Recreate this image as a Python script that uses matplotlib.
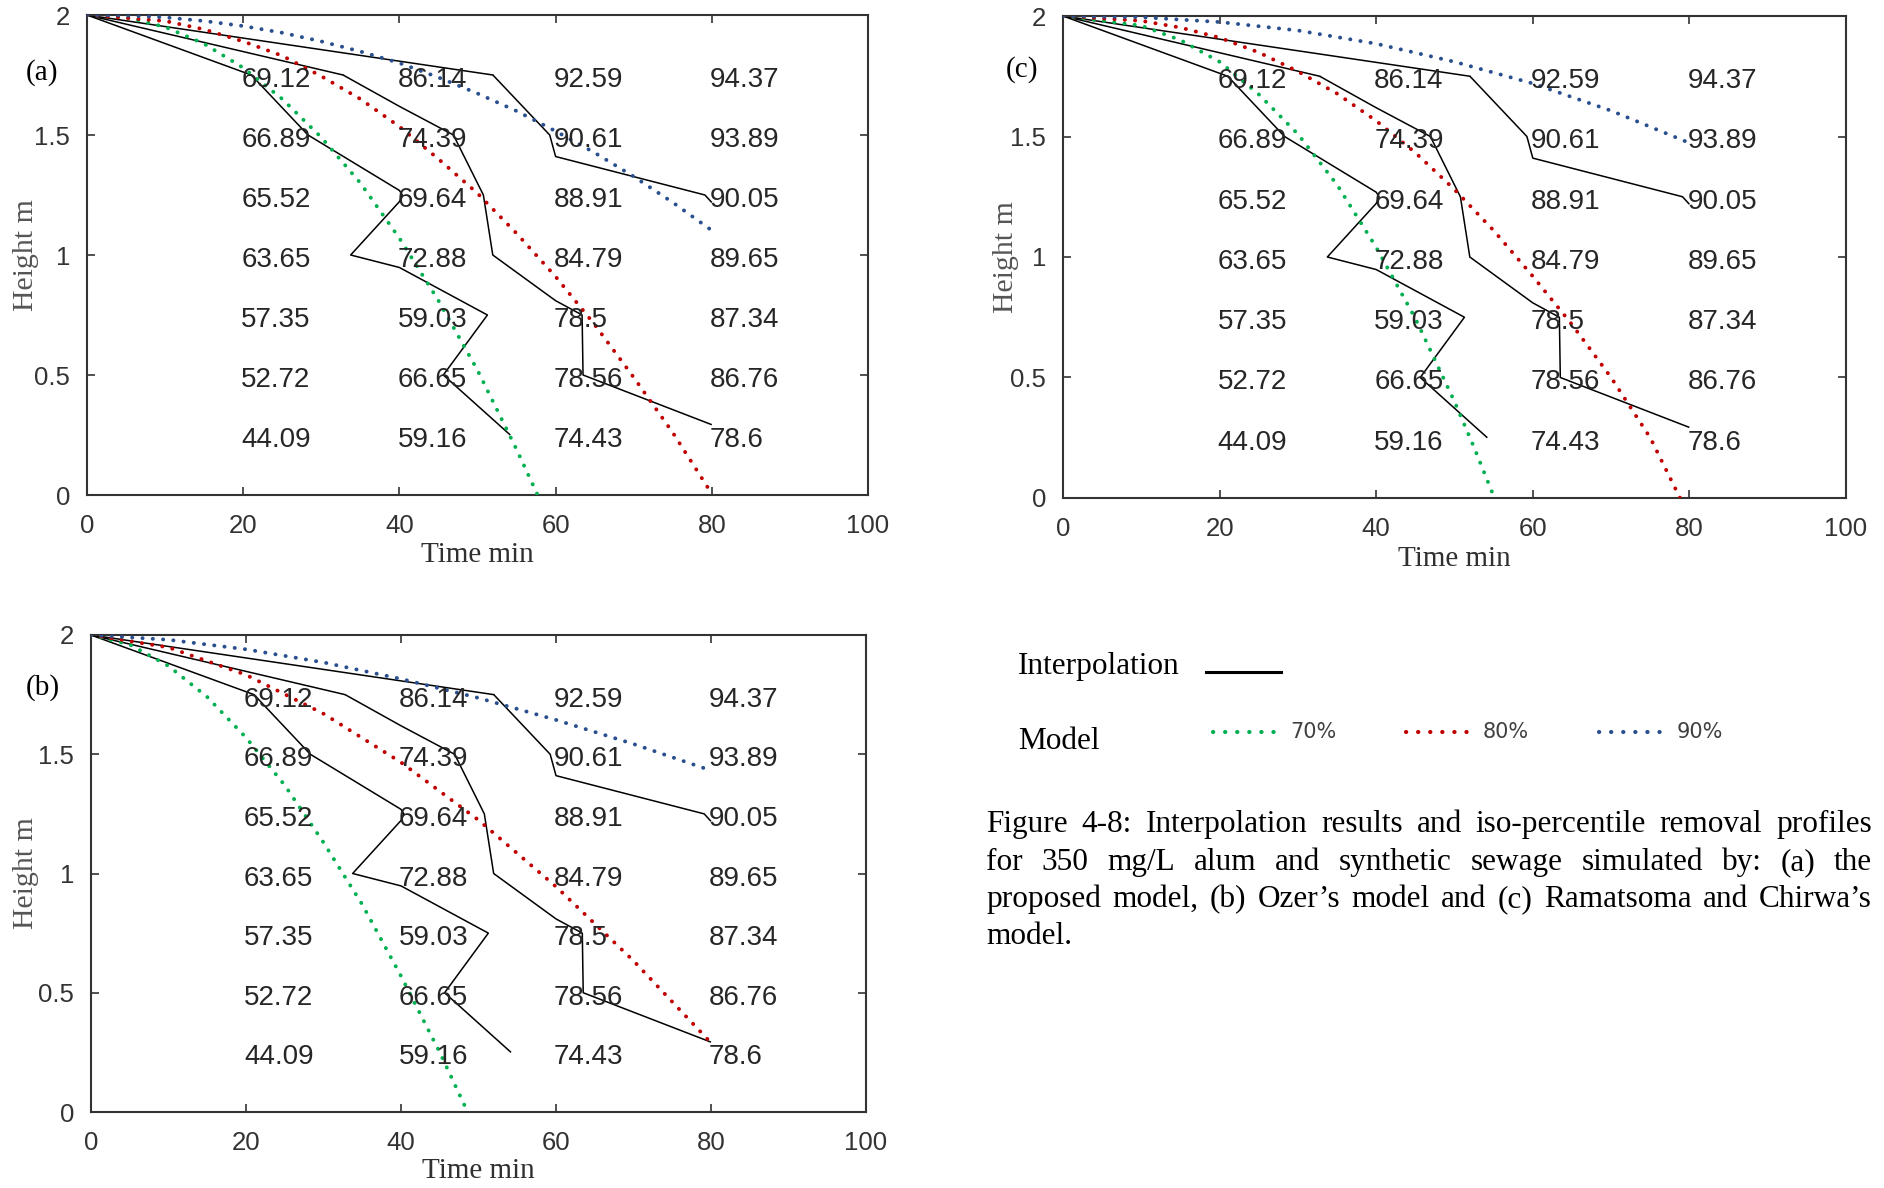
import numpy as np
import matplotlib
matplotlib.use("Agg")
import matplotlib.pyplot as plt
from matplotlib.lines import Line2D
from matplotlib.ticker import FormatStrFormatter

# ---- measured removal (%) on the sampling grid -------------------------
times = [20, 40, 60, 80]                                  # min
heights = [1.75, 1.5, 1.25, 1.0, 0.75, 0.5, 0.25]         # m
removal_t20 = [69.12, 66.89, 65.52, 63.65, 57.35, 52.72, 44.09]
removal_t40 = [86.14, 74.39, 69.64, 72.88, 59.03, 66.65, 59.16]
removal_t60 = [92.59, 90.61, 88.91, 84.79, 78.5, 78.56, 74.43]
removal_t80 = [94.37, 93.89, 90.05, 89.65, 87.34, 86.76, 78.6]

levels = [70, 80, 90]
level_labels = ["70%", "80%", "90%"]
level_colors = ["#00b050", "#c00000", "#2a4f8f"]

# ---- simulated iso-percentile profiles (time min, height m) ------------
# (a) proposed model
a70_t = [0, 5, 10, 15, 20, 25, 30, 35, 40, 45, 50, 55, 57.7]
a70_h = [2, 1.99, 1.95, 1.88, 1.78, 1.65, 1.49, 1.30, 1.07, 0.81, 0.52, 0.19, 0]
a80_t = [0, 10, 15, 20, 25, 30, 35, 40, 45, 50, 55, 60, 65, 70, 75, 80.1]
a80_h = [2, 1.975, 1.94, 1.89, 1.83, 1.745, 1.65, 1.535, 1.40, 1.257, 1.09, 0.91, 0.71, 0.49, 0.26, 0]
a90_t = [0, 5, 10, 15, 20, 25, 30, 35, 40, 45, 50, 55, 60, 65, 70, 75, 80.1]
a90_h = [2, 1.998, 1.99, 1.975, 1.954, 1.926, 1.89, 1.848, 1.80, 1.74, 1.673, 1.60, 1.516, 1.426, 1.327, 1.219, 1.10]

# (b) Ozer's model
b70_t = [0, 5, 10, 15, 20, 25, 30, 35, 40, 45, 48.6]
b70_h = [2, 1.96, 1.87, 1.74, 1.57, 1.37, 1.13, 0.87, 0.57, 0.25, 0]
b80_t = [0, 10, 20, 30, 40, 50, 60, 70, 80]
b80_h = [2, 1.948, 1.833, 1.67, 1.466, 1.224, 0.945, 0.634, 0.29]
b90_t = [0, 10, 20, 30, 40, 50, 60, 70, 79.8]
b90_h = [2, 1.98, 1.94, 1.885, 1.816, 1.736, 1.644, 1.543, 1.434]

# (c) Ramatsoma and Chirwa's model
c70_t = [0, 10, 15, 20, 25, 30, 35, 40, 45, 50, 52.5, 55.1]
c70_h = [2, 1.96, 1.90, 1.81, 1.675, 1.51, 1.30, 1.04, 0.745, 0.40, 0.21, 0]
c80_t = [0, 10, 15, 20, 25, 30, 35, 40, 45, 50, 55, 60, 65, 70, 75, 78.8]
c80_h = [2, 1.98, 1.952, 1.91, 1.849, 1.77, 1.678, 1.565, 1.433, 1.28, 1.11, 0.92, 0.72, 0.50, 0.25, 0]
c90_t = [0, 10, 20, 30, 40, 50, 60, 70, 79.5]
c90_h = [2, 1.995, 1.975, 1.94, 1.885, 1.81, 1.72, 1.607, 1.48]

x_ticks = [0, 20, 40, 60, 80, 100]
y_ticks = [0, 0.5, 1, 1.5, 2]

caption_lines = [
    "Figure 4-8: Interpolation results and iso-percentile removal profiles",
    "for 350 mg/L alum and synthetic sewage simulated by: (a) the",
    "proposed model, (b) Ozer\u2019s model and (c) Ramatsoma and Chirwa\u2019s",
    "model.",
]

SANS = "Liberation Sans"
SERIF = "Liberation Serif"
W, H = 1884, 1188

fig = plt.figure(figsize=(W / 100, H / 100), dpi=100)
fig.patch.set_facecolor("white")


def px_rect(left, top, right, bottom):
    return [left / W, 1 - bottom / H, (right - left) / W, (bottom - top) / H]


DOTS = (0, (0.05, 2.6))


def draw_panel(rect, curves, tag, tag_xy, ylab_x, xlab_y):
    ax = fig.add_axes(rect)
    grid = np.column_stack([removal_t20, removal_t40, removal_t60, removal_t80])
    T, Hh = np.meshgrid(times, heights)
    cs = ax.contour(T, Hh, grid, levels=levels, colors="black",
                    linewidths=1.1, zorder=2)
    # every interpolated isoline starts from the column top at t = 0
    for path in cs.get_paths():
        v = path.vertices
        if len(v) == 0:
            continue
        top = v[np.argmax(v[:, 1])]
        ax.plot([0, top[0]], [2, top[1]], color="black", lw=1.1, zorder=2)

    for (t, h), col in zip(curves, level_colors):
        ax.plot(t, h, color=col, lw=2.8, linestyle=DOTS,
                dash_capstyle="round", zorder=3)

    for t, col in zip(times, [removal_t20, removal_t40, removal_t60, removal_t80]):
        for h, v in zip(heights, col):
            ax.annotate(f"{v:g}", (t, h), xytext=(-2, -5),
                        textcoords="offset pixels", ha="left", va="center",
                        fontsize=20, family=SANS, color="#262626", zorder=4)

    ax.set_xlim(0, 100)
    ax.set_ylim(0, 2)
    ax.set_xticks(x_ticks)
    ax.set_yticks(y_ticks)
    ax.yaxis.set_major_formatter(FormatStrFormatter("%g"))
    ax.tick_params(direction="in", length=6, width=1.2, top=True, right=True,
                   labelsize=18.5, colors="#333333", labelcolor="#333333")
    ax.tick_params(axis="x", pad=14)
    ax.tick_params(axis="y", pad=12)
    for lab in ax.get_xticklabels() + ax.get_yticklabels():
        lab.set_family(SANS)
    for sp in ax.spines.values():
        sp.set_color("#333333")
        sp.set_linewidth(1.5)

    ax.set_xlabel("Time min", family=SERIF, fontsize=21, color="#303030",
                  va="center")
    ax.xaxis.set_label_coords(0.5, xlab_y)
    ax.set_ylabel("Height m", family=SERIF, fontsize=21.5, color="#555555",
                  va="center")
    ax.yaxis.set_label_coords(ylab_x, 0.5)
    ax.text(tag_xy[0], tag_xy[1], tag, transform=ax.transAxes, ha="center",
            va="center", family=SERIF, fontsize=21, color="black")
    return ax


draw_panel(px_rect(87, 15, 868, 495),
           [(a70_t, a70_h), (a80_t, a80_h), (a90_t, a90_h)],
           "(a)", (-0.058, 0.88), -0.078, -0.125)
draw_panel(px_rect(1063, 16, 1846, 498),
           [(c70_t, c70_h), (c80_t, c80_h), (c90_t, c90_h)],
           "(c)", (-0.052, 0.888), -0.073, -0.127)
draw_panel(px_rect(91, 635, 866, 1112),
           [(b70_t, b70_h), (b80_t, b80_h), (b90_t, b90_h)],
           "(b)", (-0.062, 0.889), -0.084, -0.124)

# ---- key -----------------------------------------------------------------
fig.text(1018 / W, 1 - 674 / H, "Interpolation", family=SERIF, fontsize=22.5,
         ha="left", va="baseline")
fig.add_artist(Line2D([1206 / W, 1281 / W], [1 - 672 / H] * 2, color="black",
                      lw=2.2, transform=fig.transFigure))
fig.text(1018 / W, 1 - 749 / H, "Model", family=SERIF, fontsize=22.5,
         ha="left", va="baseline")
key_spans = [(1213, 1275), (1406, 1468), (1599, 1662)]
for (x0, x1), col, lab in zip(key_spans, level_colors, level_labels):
    fig.add_artist(Line2D([x0 / W, x1 / W], [1 - 732 / H] * 2, color=col,
                          lw=3.0, linestyle=(0, (0.05, 2.85)),
                          dash_capstyle="round", transform=fig.transFigure))
    fig.text((x1 + 15) / W, 1 - 732 / H, lab, family="DejaVu Sans",
             fontsize=15, color="#404040", ha="left", va="center")

# ---- justified caption -------------------------------------------------
renderer = fig.canvas.get_renderer()
cap_left, cap_right = 986, 1872
baselines = [832, 870, 907, 944]
for i, (line, yb) in enumerate(zip(caption_lines, baselines)):
    words = line.split()
    arts = [fig.text(cap_left / W, 1 - yb / H, w, family=SERIF, fontsize=22.5,
                     ha="left", va="baseline") for w in words]
    widths = [a.get_window_extent(renderer).width for a in arts]
    last = i == len(caption_lines) - 1
    if last or len(words) == 1:
        gap = 7.0
    else:
        gap = (cap_right - cap_left - sum(widths)) / (len(words) - 1)
    x = cap_left
    for a, w in zip(arts, widths):
        a.set_x(x / W)
        x += w + gap

fig.savefig("out.png", dpi=100, facecolor="white")
